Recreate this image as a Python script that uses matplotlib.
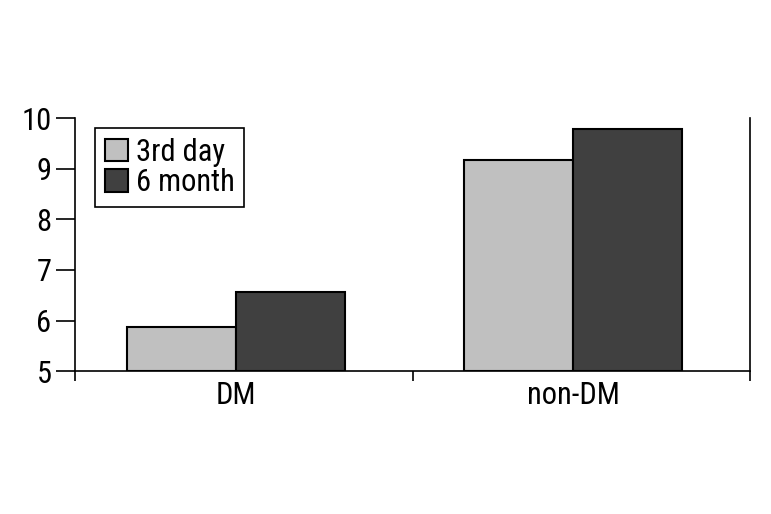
import matplotlib
matplotlib.use("Agg")
import matplotlib.pyplot as plt
from matplotlib import font_manager
import numpy as np

names = {f.name for f in font_manager.fontManager.ttflist}
fams = [f for f in ['Liberation Sans Narrow', 'DejaVu Sans Condensed', 'Roboto Condensed',
                    'Open Sans Condensed'] if f in names]
plt.rcParams['font.family'] = fams + ['DejaVu Sans']

# Data
categories = ["DM", "non-DM"]
series_names = ["3rd day", "6 month"]
third_day = [5.87, 9.17]
six_month = [6.56, 9.78]
colors = ["#c0c0c0", "#404040"]

fig = plt.figure(figsize=(7.71, 5.14), dpi=100)
ax = fig.add_axes([0.0973, 0.278, 0.8755, 0.492])

x = np.arange(len(categories))
w = 0.323
shift = -0.024
ax.bar(x + shift - w / 2, [v - 5 for v in third_day], w, bottom=5, color=colors[0],
       edgecolor="black", linewidth=1.5, label=series_names[0])
ax.bar(x + shift + w / 2, [v - 5 for v in six_month], w, bottom=5, color=colors[1],
       edgecolor="black", linewidth=1.5, label=series_names[1])

ax.set_xlim(-0.5, 1.5)
ax.set_ylim(5, 10)
ax.set_yticks([5, 6, 7, 8, 9, 10])
ax.tick_params(axis='y', length=14, width=1.2, labelsize=22, pad=3)

ax.set_xticks(x + shift)
ax.set_xticklabels(categories)
ax.tick_params(axis='x', which='major', length=0, labelsize=22, pad=7)
ax.set_xticks([-0.5, 0.5, 1.5], minor=True)
ax.tick_params(axis='x', which='minor', length=7, width=1.2, direction='out')

ax.spines['top'].set_visible(False)
for s in ['left', 'right', 'bottom']:
    ax.spines[s].set_linewidth(1.2)

leg = ax.legend(loc='upper left', bbox_to_anchor=(0.03, 0.962), fontsize=22,
                frameon=True, fancybox=False, shadow=False, framealpha=1,
                handlelength=0.75, handleheight=0.75, handletextpad=0.25,
                borderpad=0.32, labelspacing=0.05, borderaxespad=0)
leg.get_frame().set_edgecolor("black")
leg.get_frame().set_linewidth(1.2)

fig.savefig("out.png", dpi=100)
